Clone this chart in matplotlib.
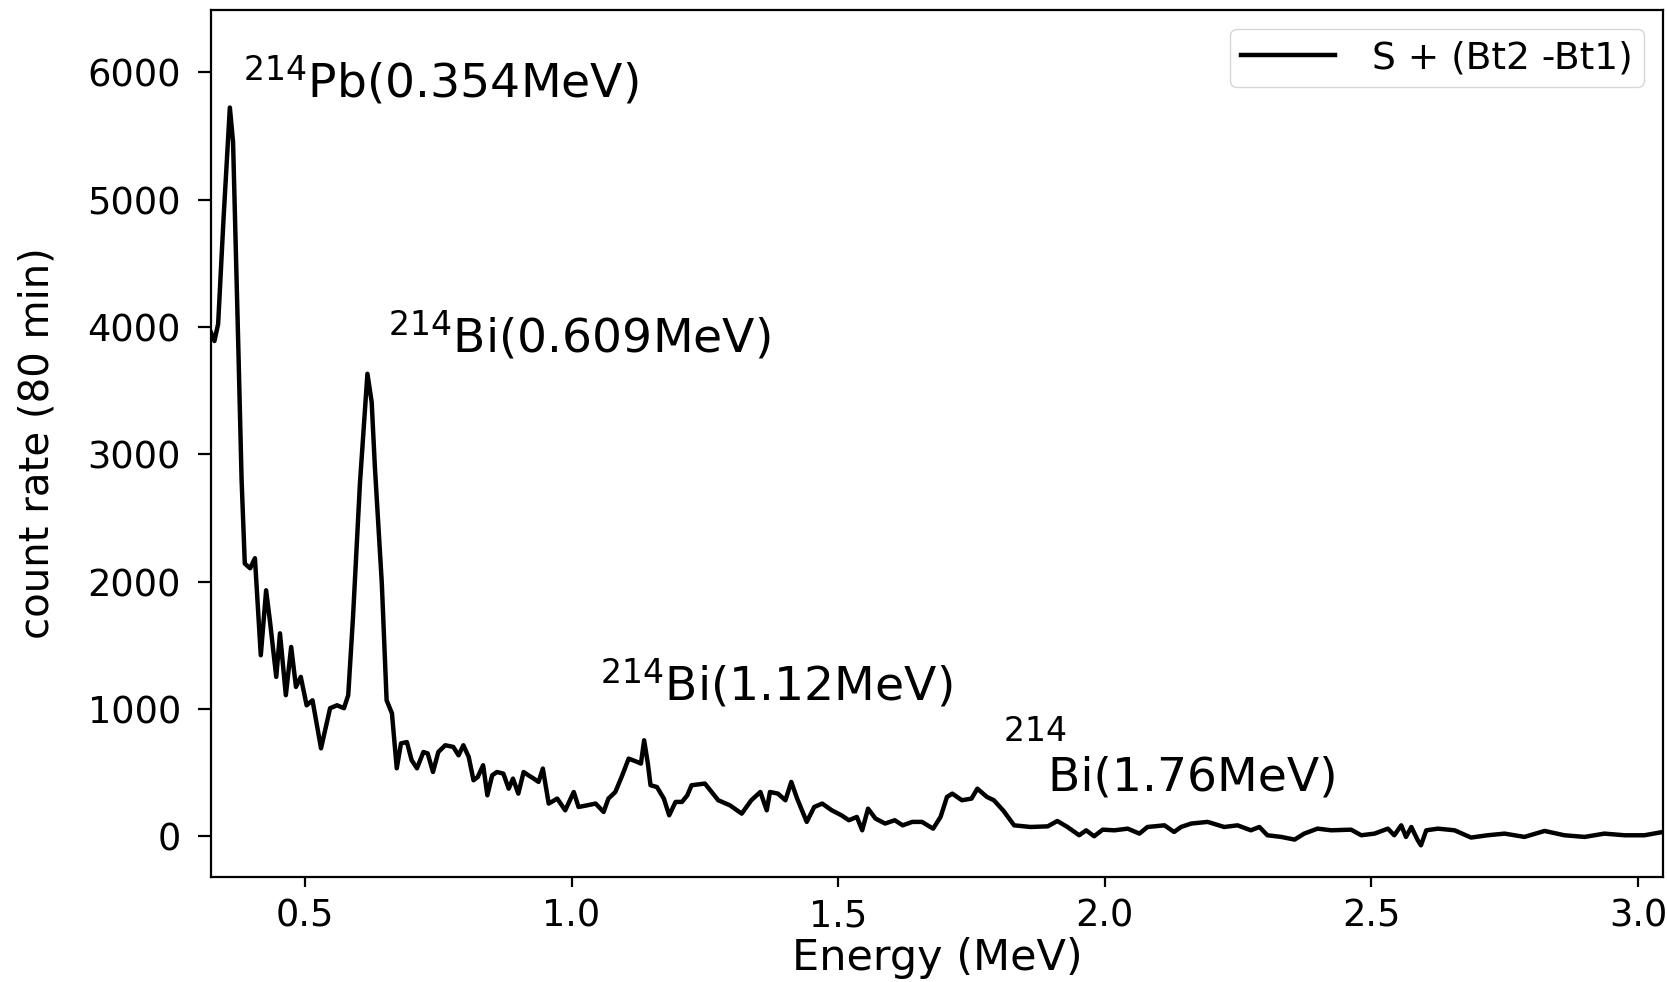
import matplotlib
matplotlib.use('Agg')
import matplotlib.pyplot as plt
import numpy as np

# energy (MeV) and count rate
energy = [0.3237, 0.330, 0.337, 0.347, 0.359, 0.365, 0.375, 0.381, 0.387,
          0.397, 0.406, 0.417, 0.427, 0.434, 0.446, 0.453, 0.464, 0.474,
          0.483, 0.492, 0.503, 0.514, 0.530, 0.547, 0.560, 0.573, 0.581,
          0.590, 0.603, 0.617, 0.625, 0.631, 0.644, 0.653, 0.663, 0.672,
          0.680, 0.691, 0.700, 0.710, 0.722, 0.730, 0.740, 0.750, 0.763,
          0.778, 0.788, 0.797, 0.807, 0.816, 0.824, 0.834, 0.842, 0.851,
          0.860, 0.872, 0.882, 0.890, 0.900, 0.910, 0.919, 0.929, 0.938,
          0.946, 0.957, 0.973, 0.988, 1.004, 1.013, 1.029, 1.045, 1.060,
          1.069, 1.082, 1.095, 1.107, 1.123, 1.130, 1.136, 1.143, 1.148,
          1.160, 1.173, 1.183, 1.195, 1.207, 1.217, 1.225, 1.250, 1.275,
          1.297, 1.319, 1.337, 1.354, 1.366, 1.372, 1.387, 1.401, 1.412,
          1.423, 1.441, 1.455, 1.470, 1.488, 1.506, 1.520, 1.535, 1.545,
          1.556, 1.570, 1.588, 1.606, 1.621, 1.639, 1.657, 1.678, 1.692,
          1.704, 1.714, 1.732, 1.750, 1.761, 1.779, 1.792, 1.810, 1.830,
          1.861, 1.893, 1.911, 1.930, 1.952, 1.965, 1.980, 1.996, 2.018,
          2.043, 2.065, 2.080, 2.112, 2.130, 2.143, 2.162, 2.193, 2.224,
          2.249, 2.274, 2.290, 2.305, 2.331, 2.356, 2.374, 2.399, 2.425,
          2.462, 2.481, 2.506, 2.531, 2.543, 2.556, 2.565, 2.575, 2.587,
          2.593, 2.603, 2.625, 2.656, 2.687, 2.718, 2.750, 2.787, 2.825,
          2.862, 2.900, 2.937, 2.975, 3.012, 3.047]
counts = [3956, 3890, 4024, 4840, 5724, 5452, 3820, 2800, 2142,
          2105, 2184, 1422, 1932, 1697, 1252, 1594, 1108, 1487,
          1173, 1252, 1029, 1068, 691, 1006, 1029, 1006, 1108,
          1723, 2773, 3633, 3410, 2901, 1987, 1068, 966, 534,
          730, 740, 597, 534, 662, 651, 505, 662, 715,
          702, 636, 715, 623, 440, 466, 558, 322, 479,
          505, 492, 374, 453, 335, 505, 479, 453, 427,
          532, 257, 296, 204, 348, 230, 243, 257, 191,
          296, 348, 479, 610, 584, 571, 754, 571, 401,
          387, 296, 165, 270, 270, 322, 401, 414, 283,
          243, 178, 283, 348, 204, 348, 335, 283, 427,
          296, 113, 230, 257, 204, 165, 126, 152, 47,
          217, 139, 100, 126, 86, 113, 113, 60, 152,
          309, 335, 283, 296, 374, 309, 283, 200, 86,
          73, 78, 120, 73, 8, 47, 0, 52, 47,
          60, 21, 73, 86, 34, 73, 100, 113, 73,
          86, 47, 73, 8, -5, -26, 21, 60, 47,
          52, 8, 21, 60, 8, 86, -5, 73, -31,
          -71, 47, 60, 47, -10, 8, 21, -5, 42,
          8, -5, 21, 8, 8, 34]

peak_labels = [r'$^{214}$Pb(0.354MeV)', r'$^{214}$Bi(0.609MeV)',
               r'$^{214}$Bi(1.12MeV)', '$^{214}$\n   Bi(1.76MeV)']
label_x = [0.384, 0.656, 1.054, 1.809]
label_y = [5805, 3802, 1068, 361]

fig = plt.figure(figsize=(16.67, 9.82), dpi=100)
ax = fig.add_axes([0.1266, 0.1069, 0.871, 0.8829])

ax.plot(energy, counts, color='black', lw=3.2, label='S + (Bt2 -Bt1)')

for txt, tx, ty in zip(peak_labels, label_x, label_y):
    ax.text(tx, ty, txt, fontsize=34, linespacing=0.7)

ax.set_xlim(energy[0], energy[-1])
ax.set_ylim(-320, 6490)
ax.set_xticks([0.5, 1.0, 1.5, 2.0, 2.5, 3.0])
ax.set_yticks([0, 1000, 2000, 3000, 4000, 5000, 6000])

ax.set_xlabel('Energy (MeV)', fontsize=31, labelpad=2)
ax.set_ylabel('count rate (80 min)', fontsize=29, labelpad=22)

ax.tick_params(axis='both', labelsize=26.5, width=1.6)
ax.tick_params(axis='y', length=9.5, pad=12)
ax.tick_params(axis='x', length=7.5, pad=7)
for s in ax.spines.values():
    s.set_linewidth(1.6)

ax.legend(loc='upper right', fontsize=27, handlelength=2.5,
          handletextpad=1.0, borderpad=0.3, borderaxespad=0.5)

fig.savefig('out.png', dpi=100)
